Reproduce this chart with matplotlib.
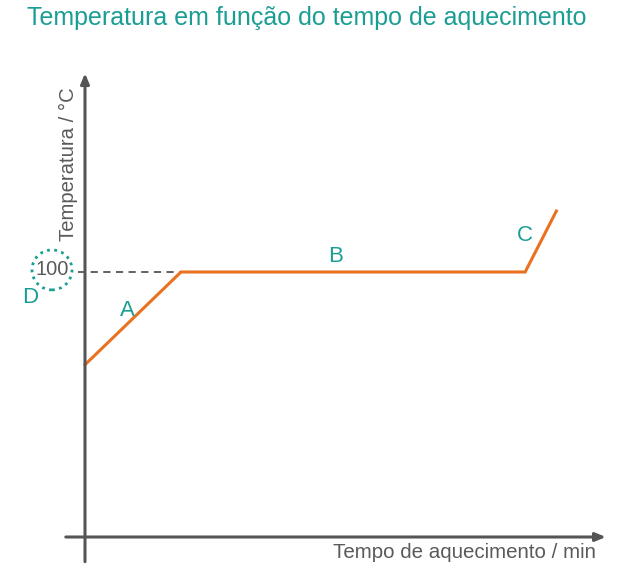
import matplotlib
matplotlib.use("Agg")
import matplotlib.pyplot as plt
from matplotlib.patches import Ellipse

plt.rcParams['font.family'] = ['Liberation Sans', 'DejaVu Sans']

# Data (time in min, temperature in °C)
time = [0.0, 2.0, 9.17, 9.82]
temp = [65, 100, 100, 123]
boiling = 100
segment_labels = ['A', 'B', 'C']

TEAL = '#1a9e94'
ORANGE = '#ea7120'
GRAY = '#555555'
TXT = '#5a5a5a'

fig = plt.figure(figsize=(6.23, 5.87), dpi=100)
ax = fig.add_axes([0, 0, 1, 1])
ax.set_xlim(-85/48, (623-85)/48)
ax.set_ylim(-50/2.65, 537/2.65)
ax.axis('off')

# axes
ax.annotate('', xy=(0, 175), xytext=(0, -9.3),
            arrowprops=dict(arrowstyle='-|>,head_length=0.6,head_width=0.25', color=GRAY, lw=2.2, shrinkA=0, shrinkB=0))
ax.annotate('', xy=(10.85, 0), xytext=(-0.4, 0),
            arrowprops=dict(arrowstyle='-|>,head_length=0.6,head_width=0.25', color=GRAY, lw=2.2, shrinkA=0, shrinkB=0))

# dashed guide
ax.plot([-0.15, time[1]], [boiling, boiling], ls=(0, (4, 3)), color=GRAY, lw=1.3)

# curve
ax.plot(time, temp, color=ORANGE, lw=2.2, solid_joinstyle='miter')

# 100 label with dotted circle
ax.text(-0.6875, 100.8, '100', ha='center', va='center', fontsize=14.5, color=TXT)
ax.add_patch(Ellipse((-0.6875, 100.8), 40/48, 40/2.65, fill=False, edgecolor=TEAL,
                     lw=2, ls=(0, (1, 1.6))))
ax.text(-1.146, 90.2, 'D', ha='center', va='center', fontsize=16, color=TEAL)

ax.text(0.875, 85.3, segment_labels[0], ha='center', va='center', fontsize=16, color=TEAL)
ax.text(5.21, 105.7, segment_labels[1], ha='center', va='center', fontsize=16, color=TEAL)
ax.text(9.17, 113.6, segment_labels[2], ha='center', va='center', fontsize=16, color=TEAL)

ax.text(-0.354, 140.8, 'Temperatura / °C', rotation=90, ha='center', va='center', fontsize=14.6, color=TXT)
ax.text(7.9, -6.0, 'Tempo de aquecimento / min', ha='center', va='center', fontsize=14.8, color=TXT)

fig.text(307/623, 1-18/587, 'Temperatura em função do tempo de aquecimento', ha='center', va='center',
         fontsize=18, color=TEAL)

fig.savefig('out.png', dpi=100)
